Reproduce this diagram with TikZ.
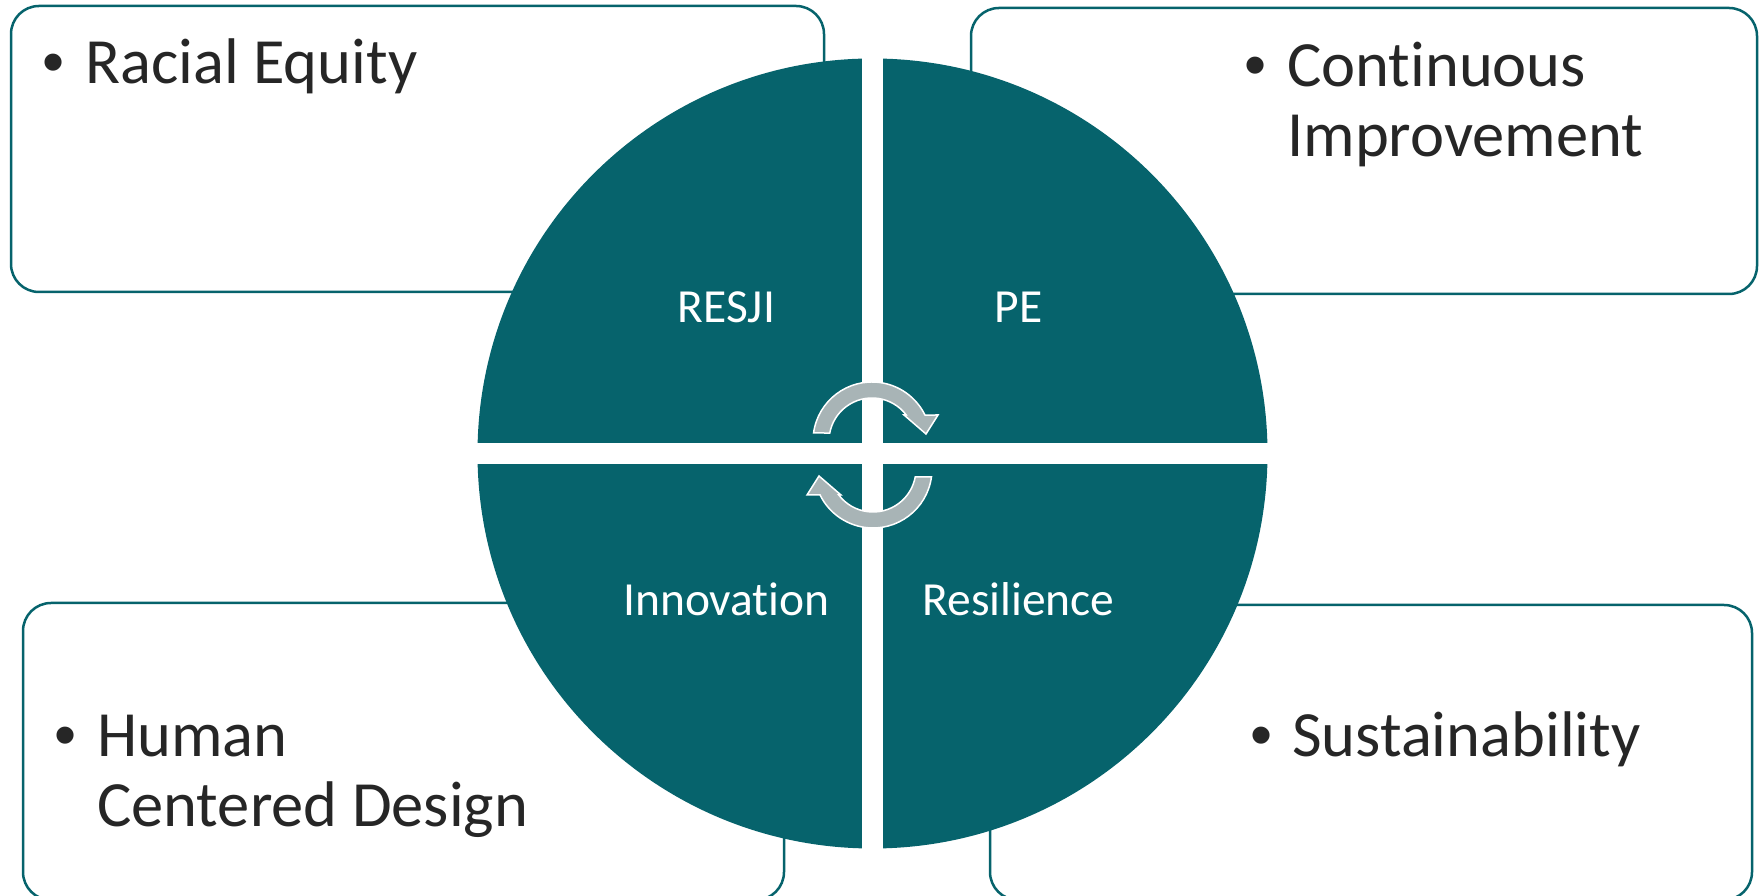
\documentclass[tikz,border=0pt]{standalone}
\usepackage{fontspec}
\setmainfont{Carlito}[Ligatures={NoCommon}]
\newfontfamily\bulletfont{Liberation Sans}
\definecolor{teal1}{RGB}{6,99,108}
\definecolor{arrowgray}{RGB}{168,180,182}
\definecolor{txt}{RGB}{38,38,38}
\begin{document}
\begin{tikzpicture}[x=1pt,y=1pt,
  box/.style={draw=teal1, line width=2.5pt, rounded corners=28pt, fill=white},
  boxtext/.style={anchor=base west, inner sep=0pt, font=\fontsize{64.5}{70}\selectfont, text=txt},
  bul/.style={anchor=base, inner sep=0pt, font=\bulletfont\fontsize{63}{70}\selectfont, text=txt},
  quad/.style={anchor=base, inner sep=0pt, font=\fontsize{47.5}{55}\selectfont, text=white},
  cyc/.style={fill=arrowgray, draw=white, line width=1.5pt, line join=miter}]
\useasboundingbox (0,0) rectangle (1759,896);
% boxes
\path[box] (11,604) rectangle (824,890);
\path[box] (971,602) rectangle (1757,888);
\path[box] (23,-4) rectangle (784,293);
\path[box] (990,-4) rectangle (1752,291);
% circle
\fill[teal1] (872.5,442.5) circle (395);
\begin{scope}
  \clip (872.5,442.5) circle (396);
  \fill[white] (862,30) rectangle (883,860);
  \fill[white] (460,432) rectangle (1290,453);
\end{scope}
% cycle arrows
\begin{scope}[shift={(872,455)}]
  \path[cyc] (172.2:59) arc[start angle=172.2, end angle=26.1, radius=59]
    -- (66,26) -- (54,7) -- (32,26) -- (37.2:43)
    arc[start angle=37.2, end angle=169.3, radius=43] -- cycle;
\end{scope}
\begin{scope}[shift={(873,427)}, rotate=180]
  \path[cyc] (172.2:59) arc[start angle=172.2, end angle=26.1, radius=59]
    -- (66,26) -- (54,7) -- (32,26) -- (37.2:43)
    arc[start angle=37.2, end angle=169.3, radius=43] -- cycle;
\end{scope}
% quadrant labels
\node[quad] (resji) at (726.5,573) {RESJI};
\node[quad] (pe) at (1018.5,573) {PE};
\node[quad] (innov) at (726.5,280) {Innovation};
\node[quad] (resil) at (1018.5,280) {Resilience};
% box texts
\node[bul] (b1) at (53.5,812) {•};
\node[boxtext] (t1) at (85,812) {Racial Equity};
\node[bul] (b2) at (1256,809) {•};
\node[boxtext] (t2a) at (1287,809) {Continuous};
\node[boxtext] (t2b) at (1287,739) {Improvement};
\node[bul] (b3) at (66,139) {•};
\node[boxtext] (t3a) at (97,139) {Human};
\node[boxtext] (t3b) at (97,69) {Centered Design};
\node[bul] (b4) at (1262,139) {•};
\node[boxtext] (t4) at (1292,139) {Sustainability};
\end{tikzpicture}
\end{document}
